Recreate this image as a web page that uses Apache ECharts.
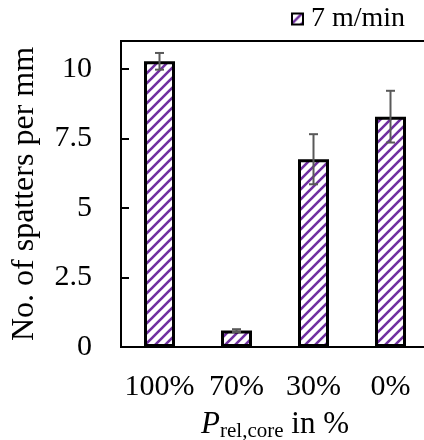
<!DOCTYPE html>
<html>
<head>
<meta charset="utf-8">
<script src="https://cdn.jsdelivr.net/npm/echarts@6/dist/echarts.min.js"></script>
<style>
html, body { margin: 0; padding: 0; background: #fff; }
#chart { width: 424px; height: 440px; }
</style>
</head>
<body>
<div id="chart"></div>
<script>
var categories = ['100%', '70%', '30%', '0%'];
var spatters = [10.27, 0.59, 6.75, 8.28];
var spattersErr = [0.3, 0.05, 0.9, 0.93];
var yTicks = [0, 2.5, 5, 7.5, 10];

// hatch pattern: purple "/" stripes on white
var P = 10;
var hatch = document.createElement('canvas');
hatch.width = P;
hatch.height = P;
var hc = hatch.getContext('2d');
hc.fillStyle = '#fff';
hc.fillRect(0, 0, P, P);
hc.strokeStyle = '#7030a0';
hc.lineWidth = 2.6;
hc.beginPath();
for (var k = -1; k <= 1; k++) {
    hc.moveTo(k * P - 1, P + 1);
    hc.lineTo(k * P + P + 1, -1);
}
hc.stroke();

var myChart = echarts.init(document.getElementById('chart'));
var serif = '"Liberation Serif", "DejaVu Serif", serif';

var option = {
    animation: false,
    textStyle: { fontFamily: serif, color: '#000' },
    grid: {
        left: 121, top: 41, bottom: 93, right: -5,
        outerBoundsMode: 'none',
        containLabel: false,
        show: true, borderColor: '#000', borderWidth: 2
    },
    legend: {
        data: [{ name: '7 m/min', icon: 'rect' }],
        left: 286, top: 0,
        itemWidth: 11, itemHeight: 11,
        itemGap: 6,
        textStyle: { fontFamily: serif, fontSize: 28, color: '#000', padding: [0, 0, 0, 3] }
    },
    xAxis: {
        type: 'category',
        data: categories,
        axisLine: { lineStyle: { color: '#000', width: 2 } },
        axisTick: { show: false },
        axisLabel: { fontFamily: serif, fontSize: 30, color: '#000', margin: 25, interval: 0, hideOverlap: false },
        name: '{p|P}{sub|rel,core}{t| in %}',
        nameLocation: 'middle',
        nameGap: 60,
        nameTextStyle: {
            rich: {
                p: { fontFamily: serif, fontStyle: 'italic', fontSize: 31, color: '#000' },
                sub: { fontFamily: serif, fontSize: 21, color: '#000', padding: [14, 0, 0, 0] },
                t: { fontFamily: serif, fontSize: 31, color: '#000' }
            }
        }
    },
    yAxis: {
        type: 'value',
        min: 0, max: 11, interval: 2.5,
        splitLine: { show: false },
        axisLine: { show: true, lineStyle: { color: '#000', width: 2 } },
        axisTick: { show: true, inside: true, length: 8, lineStyle: { color: '#000', width: 2 } },
        axisLabel: {
            fontFamily: serif, fontSize: 30, color: '#000', margin: 29,
            formatter: function (v) { return yTicks.indexOf(v) >= 0 ? String(v) : ''; }
        },
        name: 'No. of spatters per mm',
        nameLocation: 'middle',
        nameGap: 80,
        nameTextStyle: { fontFamily: serif, fontSize: 32, color: '#000' }
    },
    series: [
        {
            name: '7 m/min',
            type: 'bar',
            data: spatters,
            barWidth: 31,
            itemStyle: {
                color: { image: hatch, repeat: 'repeat' },
                borderColor: '#000',
                borderWidth: 3
            }
        },
        {
            name: 'err',
            type: 'custom',
            z: 10,
            data: spatters.map(function (v, i) { return [i, v - spattersErr[i], v + spattersErr[i]]; }),
            renderItem: function (params, api) {
                var lo = api.coord([api.value(0), api.value(1)]);
                var hi = api.coord([api.value(0), api.value(2)]);
                var w = 4.5;
                var st = { stroke: '#595959', lineWidth: 2 };
                return {
                    type: 'group',
                    children: [
                        { type: 'line', shape: { x1: hi[0], y1: hi[1], x2: lo[0], y2: lo[1] }, style: st },
                        { type: 'line', shape: { x1: hi[0] - w, y1: hi[1], x2: hi[0] + w, y2: hi[1] }, style: st },
                        { type: 'line', shape: { x1: lo[0] - w, y1: lo[1], x2: lo[0] + w, y2: lo[1] }, style: st }
                    ]
                };
            }
        }
    ]
};

myChart.setOption(option);
</script>
</body>
</html>
